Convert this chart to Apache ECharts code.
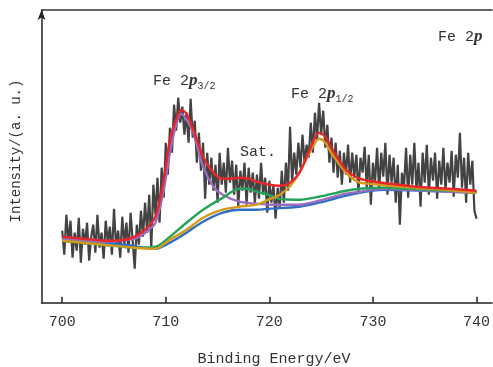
<!DOCTYPE html>
<html><head><meta charset="utf-8">
<script src="https://cdn.jsdelivr.net/npm/echarts@6.0.0/dist/echarts.min.js"></script>
<style>html,body{margin:0;padding:0;background:#fff}#c{width:493px;height:367px}</style>
</head><body><div id="c"></div>
<script>
// ---- data (intensity in arbitrary units) ----
const xTicks = [700, 710, 720, 730, 740];
const rawStart = 700, rawStep = 0.2;
const rawY = [
 72,48,88,60,82,45,70,52,85,40,
 74,58,80,42,66,78,50,88,55,70,
 44,82,60,76,48,94,56,72,45,86,
 58,80,50,90,62,34,78,58,92,66,
 100,70,108,55,118,88,125,80,135,105,
 160,128,175,150,198,172,205,180,196,168,
 190,160,204,165,182,140,170,132,160,104,
 150,118,145,112,138,100,150,118,140,110,
 155,120,142,108,138,96,132,112,140,98,
 135,110,130,100,128,104,140,108,125,90,
 122,100,118,84,115,95,132,100,140,112,
 176,120,150,128,160,135,168,140,158,145,
 180,150,190,162,200,168,192,155,178,140,
 165,130,160,125,152,118,150,128,158,120,
 150,125,148,110,145,130,156,115,148,98,
 140,120,155,112,150,126,160,108,148,120,
 145,100,138,78,130,115,155,105,148,118,
 160,112,140,96,150,120,158,108,145,122,
 150,104,142,118,155,112,140,120,152,106,
 148,125,170,115,145,100,150,118,142,92,
 84
];
const blueX = [700,703,706,708,709,710.4,712,713.6,715.5,717.1,718.75,720,722.9,724.8,727.4,728.7,731,735,740];
const blueY = [63,61,58,55,54,60,70,81,90,93,93,94,96,100,107,110,113,112,110];
const purpleX = [700,704,707,708,709,709.8,710.4,711,711.5,712,712.65,713.6,714.6,715.5,717.1,718.75,720,722.9,724.8,727.4,728.7,731,735,740];
const purpleY = [64,61,64,70,80,113,150,178,189,183,170,136,116,108,101,99,98,98,102,109,111,114,112,110];
const greenX = [700,704,707,709,710.4,712,713.6,715.5,717.1,717.8,718.75,719.9,721,722.9,724.8,727.4,728.7,731,735,740];
const greenY = [62,58,55,56,66,80,93,105,114,114,111,108,104,103,106,112,114,115,113,111];
const orangeX = [700,704,707,709,710.4,712,713.6,715.5,717.1,718.75,719.9,721,721.95,722.8,723.55,724.2,724.8,725.4,726.1,727.4,728.7,729.6,731.6,734.1,737,740];
const orangeY = [62,58,55,54,63,73,85,93,96,98,103,108,116,128,143,156,164,160,148,130,120,119,117,115,113,110];
const redX = [700,702,704.2,706,707,708,709,709.8,710.4,711,711.5,712,712.65,713.6,714.6,715.5,716.3,717.1,718,718.75,720,721,722,722.9,723.9,724.8,725.4,726.1,727.4,728.7,729.6,731.6,734.1,737.3,740];
const redY = [66,64,62,63,66,73,86,123,163,183,193,189,173,146,130,124,124,125,124,121,118,117,120,130,153,170,166,153,133,124,122,119,116,114,112];

// ---- build ----
const zip = (xs, ys) => xs.map((x, i) => [x, ys[i]]);
const rawData = rawY.map((y, i) => [+(rawStart + i * rawStep).toFixed(2), y]);
const FONT = '"Liberation Mono", monospace';
const chart = echarts.init(document.getElementById('c'), null, {renderer: 'canvas'});
function fit(data, color) {
  return {type: 'line', data, smooth: 0.3, symbol: 'none', lineStyle: {color, width: 2.4}, z: 3};
}
const rich = {
  a: {fontFamily: FONT, fontSize: 15, fill: '#333'},
  b: {fontFamily: '"Liberation Serif", serif', fontStyle: 'italic', fontWeight: 'bold', fontSize: 17, fill: '#333'},
  c: {fontFamily: FONT, fontSize: 10, fill: '#333', padding: [10, 0, 0, 0]}
};
chart.setOption({
  animation: false,
  backgroundColor: '#fff',
  grid: {left: 41.5, right: 0, top: 10, bottom: 64.3},
  xAxis: [{
    type: 'value', min: 698, max: 741.5, position: 'bottom',
    axisLine: {show: true, lineStyle: {color: '#222', width: 1.5}},
    axisTick: {show: true, inside: true, length: 6, lineStyle: {color: '#222', width: 1.5}, customValues: xTicks},
    axisLabel: {show: true, margin: 12, color: '#333', fontSize: 15, fontFamily: FONT, customValues: xTicks},
    splitLine: {show: false}
  }, {
    type: 'value', min: 698, max: 741.5, position: 'top',
    axisLine: {show: true, onZero: false, lineStyle: {color: '#333', width: 1.5}},
    axisTick: {show: false}, axisLabel: {show: false}, splitLine: {show: false}
  }],
  yAxis: {
    type: 'value', min: 0, max: 292.7,
    axisLine: {show: true, symbol: ['none', 'arrow'], symbolSize: [6, 10], lineStyle: {color: '#222', width: 1.5}},
    axisTick: {show: false}, axisLabel: {show: false}, splitLine: {show: false}
  },
  series: [
    {type: 'line', data: rawData, symbol: 'none', lineStyle: {color: '#434343', width: 2.2}, z: 2},
    fit(zip(blueX, blueY), '#2f6ec4'),
    fit(zip(purpleX, purpleY), '#9a6cbf'),
    fit(zip(greenX, greenY), '#25a35a'),
    fit(zip(orangeX, orangeY), '#d39a1e'),
    fit(zip(redX, redY), '#e8262a')
  ],
  graphic: [
    {type: 'text', x: 274, y: 359, style: {text: 'Binding Energy/eV', font: '15px ' + FONT, fill: '#333', align: 'center', verticalAlign: 'middle'}},
    {type: 'text', x: 16, y: 151, rotation: Math.PI / 2, style: {text: 'Intensity/(a. u.)', font: '14px ' + FONT, fill: '#333', align: 'center', verticalAlign: 'middle'}},
    {type: 'text', x: 153, y: 81, style: {text: '{a|Fe 2}{b|p}{c|3/2}', align: 'left', verticalAlign: 'middle', rich}},
    {type: 'text', x: 291, y: 94, style: {text: '{a|Fe 2}{b|p}{c|1/2}', align: 'left', verticalAlign: 'middle', rich}},
    {type: 'text', x: 240, y: 152, style: {text: 'Sat.', font: '15px ' + FONT, fill: '#333', align: 'left', verticalAlign: 'middle'}},
    {type: 'text', x: 438, y: 37, style: {text: '{a|Fe 2}{b|p}', align: 'left', verticalAlign: 'middle', rich}}
  ]
});
</script></body></html>
